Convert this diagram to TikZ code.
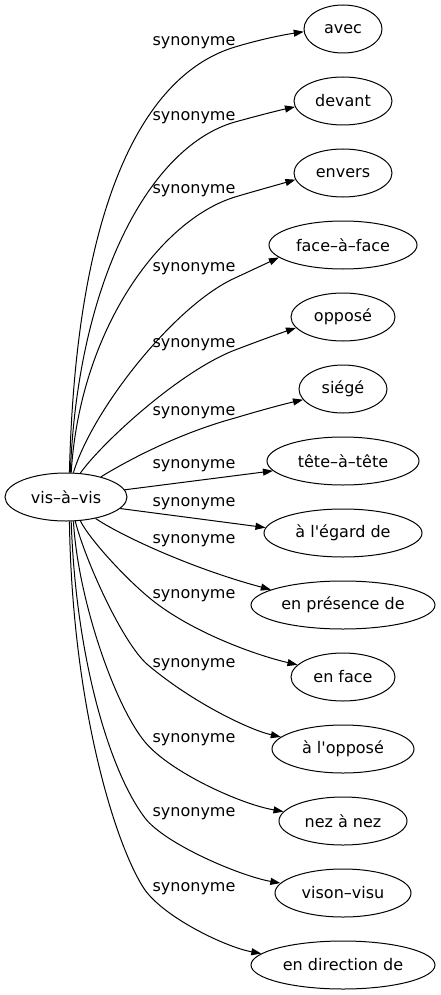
\documentclass[tikz,border=0pt]{standalone}
\usepackage{fontspec}
\setmainfont{DejaVu Sans}
\usetikzlibrary{arrows.meta,shapes.geometric}
\begin{document}
\begin{tikzpicture}[x=1pt,y=-1pt,
  every node/.style={font=\fontsize{16}{19}\selectfont},
  word/.style={draw, ellipse, line width=1pt, minimum height=48pt, inner sep=0pt},
  lbl/.style={inner sep=0pt},
  edge/.style={line width=1pt, -{Triangle[length=10pt,width=7pt]}}]
\useasboundingbox (0,0) rectangle (440,995);
% nodes
\node[word, minimum width=122pt] (v) at (66,497) {vis–à–vis};
\node[word, minimum width=78pt]  (avec) at (343,29) {avec};
\node[word, minimum width=98pt]  (devant) at (343,101) {devant};
\node[word, minimum width=98pt]  (envers) at (343,173) {envers};
\node[word, minimum width=148pt] (face) at (343,245) {face–à–face};
\node[word, minimum width=104pt] (oppose) at (343,317) {opposé};
\node[word, minimum width=88pt]  (siege) at (343,389) {siégé};
\node[word, minimum width=152pt] (tete) at (343,461) {tête–à–tête};
\node[word, minimum width=158pt] (egard) at (343,533) {à l\textquotesingle égard de};
\node[word, minimum width=184pt] (pres) at (343,605) {en présence de};
\node[word, minimum width=104pt] (enface) at (343,677) {en face};
\node[word, minimum width=142pt] (alopp) at (343,749) {à l\textquotesingle opposé};
\node[word, minimum width=128pt] (nez) at (343,821) {nez à nez};
\node[word, minimum width=136pt] (vison) at (343,893) {vison–visu};
\node[word, minimum width=184pt] (dir) at (343,965) {en direction de};
% labels
\node[lbl] (s1) at (194,42.5) {synonyme};
\node[lbl] (s2) at (194,117.5) {synonyme};
\node[lbl] (s3) at (194,190.5) {synonyme};
\node[lbl] (s4) at (194,268.5) {synonyme};
\node[lbl] (s5) at (194,344.5) {synonyme};
\node[lbl] (s6) at (194,412.5) {synonyme};
\node[lbl] (s7) at (194,466) {synonyme};
\node[lbl] (s8) at (194,504) {synonyme};
\node[lbl] (s9) at (194,541) {synonyme};
\node[lbl] (s10) at (194,596) {synonyme};
\node[lbl] (s11) at (194,664.5) {synonyme};
\node[lbl] (s12) at (194,740) {synonyme};
\node[lbl] (s13) at (194,813.5) {synonyme};
\node[lbl] (s14) at (194,889) {synonyme};
% pass points
\coordinate (L1) at (235,47);
\coordinate (L2) at (235,122);
\coordinate (L3) at (235,197);
\coordinate (L4) at (235,278);
\coordinate (L5) at (235,350);
\coordinate (L6) at (235,418);
\coordinate (L10) at (152,600);
\coordinate (L11) at (148,665);
\coordinate (L12) at (145,742);
\coordinate (L13) at (145,818);
\coordinate (L14) at (143,887);
% edges
\draw[edge] (v.82.9) .. controls (76,200) and (145,74) .. (L1) .. controls (258,40) and (282,35) .. (avec.184.4);
\draw[edge] (v.80.5) .. controls (78,280) and (150,146) .. (L2) .. controls (255,116.5) and (276,111) .. (devant.187.2);
\draw[edge] (v.78.2) .. controls (80,330) and (160,220) .. (L3) .. controls (255,191) and (277,185) .. (envers.188.5);
\draw[edge] (v.73.6) .. controls (92,410) and (175,305) .. (L4) .. controls (250,271) and (265,264) .. (face.191.8);
\draw[edge] (v.59.1) .. controls (100,445) and (178,372) .. (L5) .. controls (255,342.4) and (275,335) .. (oppose.193.4);
\draw[edge] (v.30.4) .. controls (130,459) and (180,433) .. (L6) .. controls (255,412) and (280,405) .. (siege.195.7);
\draw[edge] (v.7.9) -- (tete.188.2);
\draw[edge] (v.-12.8) -- (egard.176.3);
\draw[edge] (v.-36) .. controls (120,535) and (190,568) .. (pres.168.2);
\draw[edge] (v.-59.1) .. controls (90,540) and (127,580) .. (L10) .. controls (192,632) and (255,655) .. (enface.165.1);
\draw[edge] (v.-69.2) .. controls (85,560) and (123,644) .. (L11) .. controls (193,703) and (250,730) .. (alopp.169);
\draw[edge] (v.-73.6) .. controls (78,600) and (115,706) .. (L12) .. controls (170,772) and (240,804) .. (nez.171.4);
\draw[edge] (v.-78.2) .. controls (76,660) and (110,772) .. (L13) .. controls (165,844) and (240,876) .. (vison.171.9);
\draw[edge] (v.-82.9) .. controls (72,700) and (113,839) .. (L14) .. controls (161,916) and (225,947) .. (dir.172.3);
\end{tikzpicture}
\end{document}
